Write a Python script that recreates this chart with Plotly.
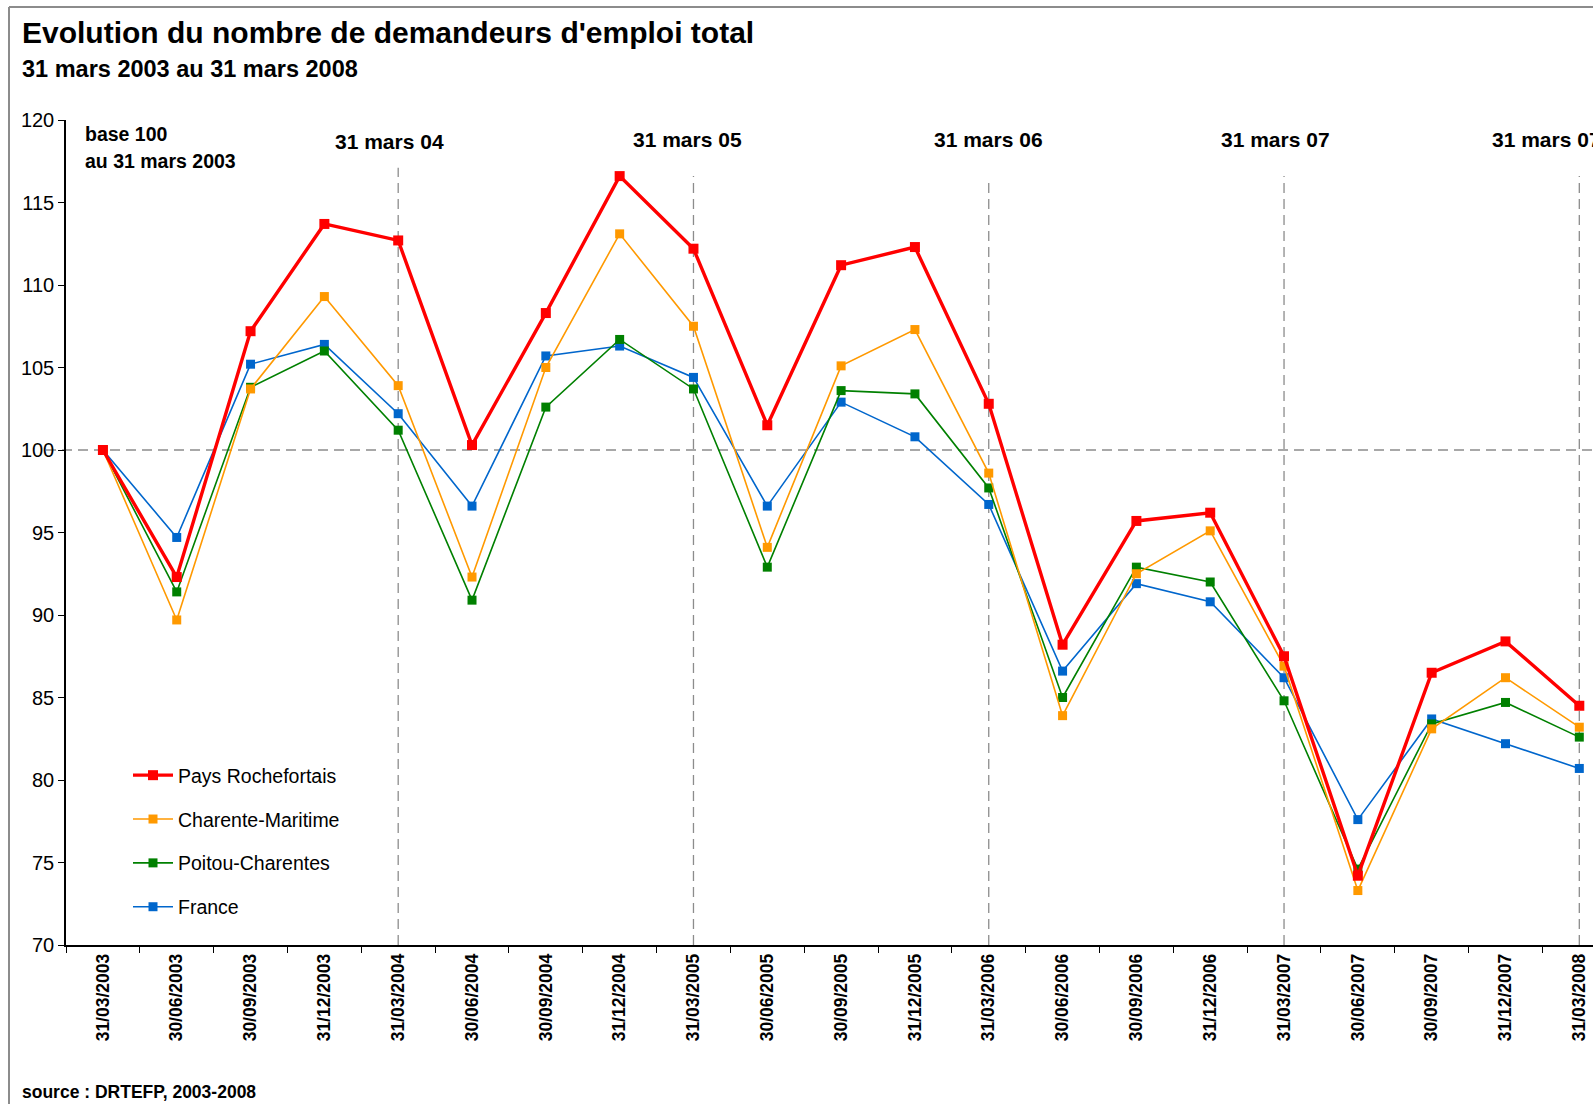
import plotly.graph_objects as go

dates = ["31/03/2003", "30/06/2003", "30/09/2003", "31/12/2003",
         "31/03/2004", "30/06/2004", "30/09/2004", "31/12/2004",
         "31/03/2005", "30/06/2005", "30/09/2005", "31/12/2005",
         "31/03/2006", "30/06/2006", "30/09/2006", "31/12/2006",
         "31/03/2007", "30/06/2007", "30/09/2007", "31/12/2007",
         "31/03/2008"]

pays_rochefortais = [100.0, 92.3, 107.2, 113.7, 112.7, 100.3, 108.3, 116.6, 112.2, 101.5,
                     111.2, 112.3, 102.8, 88.2, 95.7, 96.2, 87.5, 74.2, 86.5, 88.4, 84.5]
charente_maritime = [100.0, 89.7, 103.7, 109.3, 103.9, 92.3, 105.0, 113.1, 107.5, 94.1,
                     105.1, 107.3, 98.6, 83.9, 92.5, 95.1, 86.9, 73.3, 83.1, 86.2, 83.2]
poitou_charentes = [100.0, 91.4, 103.8, 106.0, 101.2, 90.9, 102.6, 106.7, 103.7, 92.9,
                    103.6, 103.4, 97.7, 85.0, 92.9, 92.0, 84.8, 74.6, 83.4, 84.7, 82.6]
france = [100.0, 94.7, 105.2, 106.4, 102.2, 96.6, 105.7, 106.3, 104.4, 96.6,
          102.9, 100.8, 96.7, 86.6, 91.9, 90.8, 86.2, 77.6, 83.7, 82.2, 80.7]

series_names = ["Pays Rochefortais", "Charente-Maritime", "Poitou-Charentes", "France"]
series_values = [pays_rochefortais, charente_maritime, poitou_charentes, france]
series_colors = ["#FF0000", "#FF9900", "#008000", "#0066CC"]
series_widths = [3.4, 1.6, 1.6, 1.6]
series_msize = [10, 9, 9, 9]

year_marks = ["31/03/2004", "31/03/2005", "31/03/2006", "31/03/2007", "31/03/2008"]
year_labels = ["31 mars 04", "31 mars 05", "31 mars 06", "31 mars 07", "31 mars 07"]

W, H = 1593, 1104
L, R, T, B = 66, 0, 120, 159
PW, PH = W - L - R, H - T - B


def px(x):
    return (x - L) / PW


def py(y):
    return (H - B - y) / PH


FONT = "Liberation Sans, Arial, sans-serif"

fig = go.Figure()
# draw order: France first so red on top; legend order via legendrank
ranks = [1, 2, 3, 4]
for name, vals, col, w, ms, rk in list(zip(series_names, series_values, series_colors,
                                           series_widths, series_msize, ranks))[::-1]:
    fig.add_trace(go.Scatter(
        x=dates, y=vals, name=name, mode="lines+markers",
        line=dict(color=col, width=w),
        marker=dict(symbol="square", size=ms, color=col),
        legendgroup=name, legendrank=rk,
    ))

shapes = []
# frame (left + top)
shapes.append(dict(type="line", xref="paper", yref="paper", x0=px(9), x1=px(9), y0=py(7), y1=py(H + 5),
                   line=dict(color="#8c8c8c", width=2)))
shapes.append(dict(type="line", xref="paper", yref="paper", x0=px(9), x1=px(W + 5), y0=py(7), y1=py(7),
                   line=dict(color="#8c8c8c", width=2)))
# horizontal base-100 line
shapes.append(dict(type="line", xref="paper", yref="y", x0=px(46), x1=1, y0=100, y1=100,
                   line=dict(color="#8c8c8c", width=1.3, dash="10px,6px"), layer="below"))
# vertical year lines
tops = [117.1, 116.6, 116.5, 116.6, 116.6]
for d, t in zip(year_marks, tops):
    shapes.append(dict(type="line", xref="x", yref="y", x0=d, x1=d, y0=70, y1=t,
                       line=dict(color="#8c8c8c", width=1.3, dash="10px,6px"), layer="below"))

annotations = []
annotations.append(dict(text="<b>Evolution du nombre de demandeurs d'emploi total</b>", xref="paper", yref="paper",
                        x=px(20), y=py(33), xanchor="left", yanchor="middle", showarrow=False,
                        font=dict(family=FONT, size=30, color="black")))
annotations.append(dict(text="<b>31 mars 2003 au 31 mars 2008</b>", xref="paper", yref="paper",
                        x=px(20), y=py(69), xanchor="left", yanchor="middle", showarrow=False,
                        font=dict(family=FONT, size=23.5, color="black")))
annotations.append(dict(text="<b>base 100</b>", xref="paper", yref="paper",
                        x=px(83), y=py(134), xanchor="left", yanchor="middle", showarrow=False,
                        font=dict(family=FONT, size=19.5, color="black")))
annotations.append(dict(text="<b>au 31 mars 2003</b>", xref="paper", yref="paper",
                        x=px(83), y=py(161), xanchor="left", yanchor="middle", showarrow=False,
                        font=dict(family=FONT, size=19.5, color="black")))
label_x = [389, 687, 989, 1275]
label_y = [142, 139, 139, 139]
for lab, xx, yy in zip(year_labels[:4], label_x, label_y):
    annotations.append(dict(text="<b>%s</b>" % lab, xref="paper", yref="paper",
                            x=px(xx), y=py(yy), xanchor="center", yanchor="middle", showarrow=False,
                            font=dict(family=FONT, size=21, color="black")))
annotations.append(dict(text="<b>%s</b>" % year_labels[4], xref="paper", yref="paper",
                        x=px(1490), y=py(139), xanchor="left", yanchor="middle", showarrow=False,
                        font=dict(family=FONT, size=21, color="black")))
annotations.append(dict(text="<b>source : DRTEFP, 2003-2008</b>", xref="paper", yref="paper",
                        x=px(20), y=py(1092), xanchor="left", yanchor="middle", showarrow=False,
                        font=dict(family=FONT, size=17.5, color="black")))

fig.update_layout(
    width=W, height=H,
    margin=dict(l=L, r=R, t=T, b=B, autoexpand=False),
    paper_bgcolor="white", plot_bgcolor="white",
    font=dict(family=FONT, color="black"),
    showlegend=True,
    legend=dict(x=px(128), y=py(756), xanchor="left", yanchor="top",
                traceorder="grouped", tracegroupgap=15.5,
                font=dict(family=FONT, size=19.5, color="black"),
                bgcolor="rgba(0,0,0,0)", itemwidth=40),
    xaxis=dict(type="category", categoryorder="array", categoryarray=dates,
               range=[-0.5, -0.5 + PW / 73.82],
               showgrid=False, zeroline=False, showline=True, linecolor="black", linewidth=1.5,
               ticks="outside", ticklen=6, tickcolor="black", tickson="boundaries",
               tickangle=-90, tickfont=dict(family=FONT, size=17.5, color="black"),
               tickprefix="<b>", ticksuffix="</b>"),
    yaxis=dict(range=[70, 120], dtick=5, tick0=70,
               showgrid=False, zeroline=False, showline=True, linecolor="black", linewidth=1.5,
               ticks="outside", ticklen=6, tickcolor="black",
               tickfont=dict(family=FONT, size=20, color="black")),
    shapes=shapes, annotations=annotations,
)

fig.write_html("out.html", config={"displayModeBar": False},
               post_script="document.body.style.margin='0px';document.body.style.padding='0px';")
